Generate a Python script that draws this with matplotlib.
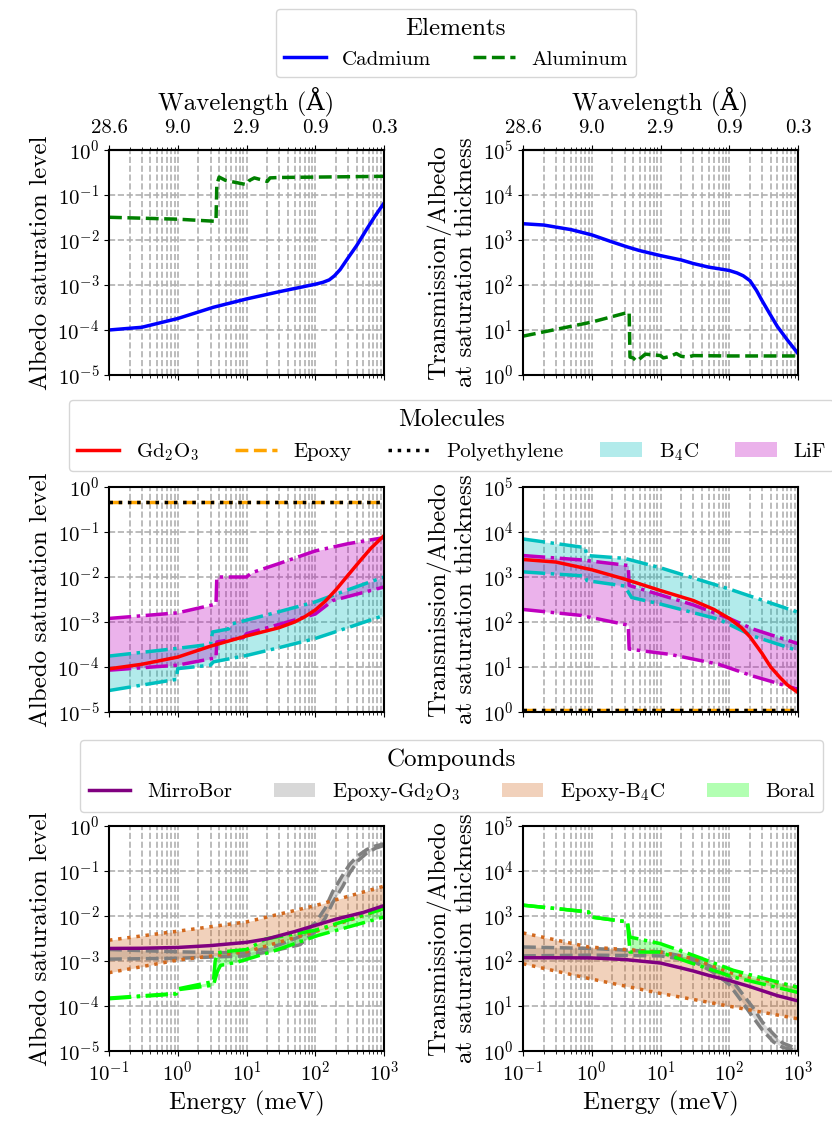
import numpy as np
from matplotlib import pyplot as plt
from matplotlib.ticker import NullLocator, LogLocator

plt.rcParams["font.family"] = ["cmr10", "DejaVu Serif"]
plt.rcParams["mathtext.fontset"] = "cm"
plt.rcParams["axes.formatter.use_mathtext"] = True
plt.rcParams["font.size"] = 15
plt.rcParams["axes.labelsize"] = "large"
plt.rcParams["legend.title_fontsize"] = "large"
plt.rcParams["axes.linewidth"] = 1.5

# ---------------- data (energy in meV) ----------------
# Elements
cd_alb_E = [0.1, 0.3, 1, 3.3, 10, 30, 100, 130, 160, 190, 230, 300, 400, 562, 750, 1000]
cd_alb = [1.0e-4, 1.15e-4, 1.8e-4, 3.2e-4, 4.9e-4, 7.1e-4, 1.04e-3, 1.15e-3, 1.3e-3, 1.6e-3,
          2.2e-3, 4.0e-3, 7.5e-3, 1.75e-2, 3.5e-2, 6.6e-2]
al_alb_E = [0.1, 1, 3.6, 3.7, 4.0, 5, 7, 10, 11, 13, 18, 20, 22, 30, 100, 1000]
al_alb = [0.032, 0.029, 0.026, 0.17, 0.25, 0.21, 0.19, 0.17, 0.21, 0.24, 0.21, 0.2, 0.24, 0.245, 0.25, 0.26]
cd_tr_E = [0.1, 0.2, 0.5, 1, 2, 3.3, 5, 10, 20, 30, 50, 70, 100, 130, 160, 200, 250, 300, 370, 500, 700, 1000]
cd_tr = [2300, 2150, 1700, 1300, 900, 700, 580, 450, 360, 300, 250, 230, 210, 185, 160, 125,
         75, 45, 26, 12, 6, 3.0]
al_tr_E = [0.1, 1, 3.5, 3.6, 4.0, 4.5, 5, 6, 8, 10, 11, 14, 17, 20, 25, 30, 100, 1000]
al_tr = [7.3, 15, 25, 2.5, 2.4, 2.0, 2.3, 2.9, 2.8, 2.7, 2.4, 2.6, 3.0, 2.6, 2.5, 2.7, 2.65, 2.65]

# Molecules
gd_alb_E = [0.1, 0.3, 1, 3, 10, 30, 50, 70, 100, 140, 200, 300, 450, 650, 1000]
gd_alb = [9.1e-5, 1.15e-4, 1.66e-4, 2.9e-4, 4.9e-4, 7.5e-4, 1.0e-3, 1.3e-3, 1.85e-3, 2.9e-3,
          5.2e-3, 1.1e-2, 2.3e-2, 4.4e-2, 8.3e-2]
flat_E = [0.1, 1, 10, 100, 1000]
epoxy_alb = [0.47, 0.47, 0.47, 0.47, 0.47]
poly_alb = [0.46, 0.46, 0.46, 0.46, 0.46]
b4c_hi_alb_E = [0.1, 1, 3.0, 3.2, 5.5, 6, 10, 30, 100, 300, 1000]
b4c_hi_alb = [1.75e-4, 2.6e-4, 3.2e-4, 6e-4, 7e-4, 9e-4, 1.1e-3, 1.7e-3, 2.8e-3, 5.2e-3, 1e-2]
b4c_lo_alb_E = [0.1, 0.95, 1.0, 3.0, 3.3, 10, 30, 100, 300, 1000]
b4c_lo_alb = [3.0e-5, 5.3e-5, 9.2e-5, 1.1e-4, 1.3e-4, 1.8e-4, 2.7e-4, 4.3e-4, 7.5e-4, 1.4e-3]
lif_hi_alb_E = [0.1, 1, 3.6, 3.7, 10, 12, 30, 100, 300, 1000]
lif_hi_alb = [1.2e-3, 1.6e-3, 2.5e-3, 1.0e-2, 1.0e-2, 1.25e-2, 2e-2, 3.8e-2, 5.5e-2, 7.5e-2]
lif_lo_alb_E = [0.1, 1, 3.6, 3.7, 9, 10, 100, 180, 1000]
lif_lo_alb = [8.5e-5, 1.1e-4, 1.6e-4, 3.6e-4, 4.5e-4, 5.5e-4, 1.5e-3, 3e-3, 6e-3]
gd_tr_E = [0.1, 0.3, 1, 3, 10, 30, 60, 100, 150, 200, 300, 400, 550, 700, 1000]
gd_tr = [2450, 2150, 1450, 900, 500, 300, 190, 120, 75, 47, 20, 10, 5.8, 4.0, 2.7]
epoxy_tr = [1.1, 1.1, 1.1, 1.1, 1.1]
poly_tr = [1.1, 1.1, 1.1, 1.1, 1.1]
b4c_hi_tr_E = [0.1, 0.8, 0.85, 3, 10, 100, 1000]
b4c_hi_tr = [7000, 4500, 3000, 2600, 1600, 540, 165]
b4c_lo_tr_E = [0.1, 0.8, 0.85, 3, 3.8, 10, 70, 220, 1000]
b4c_lo_tr = [1300, 1050, 830, 630, 350, 250, 115, 49, 23]
lif_hi_tr_E = [0.1, 0.7, 3.4, 3.5, 10, 30, 100, 220, 1000]
lif_hi_tr = [3000, 2400, 1800, 650, 400, 240, 120, 70, 33]
lif_lo_tr_E = [0.1, 0.7, 3.4, 3.5, 14, 70, 220, 1000]
lif_lo_tr = [190, 140, 85, 25, 19, 11.5, 6.3, 3.2]

# Compounds
mirro_alb_E = [0.1, 0.3, 1, 3, 10, 20, 50, 100, 200, 500, 1000]
mirro_alb = [1.9e-3, 1.92e-3, 2.0e-3, 2.2e-3, 2.6e-3, 3.1e-3, 4.5e-3, 6.2e-3, 8.5e-3, 1.2e-2, 1.7e-2]
egd_alb_E = [0.1, 1, 10, 30, 60, 100, 140, 180, 250, 316, 420, 562, 750, 1000]
egd_hi_alb = [1.8e-3, 1.6e-3, 1.5e-3, 2.3e-3, 3.5e-3, 7e-3, 1.5e-2, 3.5e-2, 8e-2, 0.14, 0.22, 0.3, 0.36, 0.4]
egd_lo_alb = [1.1e-3, 1.15e-3, 1.3e-3, 1.8e-3, 2.3e-3, 4.5e-3, 9e-3, 2e-2, 4.5e-2, 0.09, 0.17, 0.25, 0.32, 0.37]
eb4c_alb_E = [0.1, 1, 10, 100, 1000]
eb4c_hi_alb = [2.9e-3, 4.6e-3, 7.4e-3, 1.7e-2, 4.6e-2]
eb4c_lo_alb = [5.5e-4, 1.05e-3, 1.6e-3, 4.5e-3, 1.45e-2]
boral_hi_alb_E = [0.1, 0.95, 1.0, 3.3, 3.5, 3.8, 4.5, 10, 15, 19, 100, 1000]
boral_hi_alb = [1.5e-4, 1.9e-4, 2.4e-4, 3.5e-4, 1.0e-3, 1.5e-3, 1.6e-3, 1.8e-3, 2.5e-3, 3.1e-3, 4.8e-3, 1.46e-2]
boral_lo_alb_E = [0.1, 0.95, 1.0, 3.3, 3.8, 4.2, 7.5, 23, 110, 1000]
boral_lo_alb = [1.45e-4, 1.85e-4, 2.3e-4, 2.9e-4, 6e-4, 8e-4, 9.5e-4, 1.6e-3, 3.7e-3, 9.5e-3]
mirro_tr_E = [0.1, 0.3, 1, 3, 5, 10, 20, 30, 50, 100, 200, 300, 500, 1000]
mirro_tr = [118, 118, 117, 108, 100, 90, 70, 60, 48, 37, 27, 22, 17, 13]
egd_tr_E = [0.1, 1, 10, 30, 60, 100, 150, 224, 300, 437, 600, 1000]
egd_hi_tr = [205, 190, 160, 115, 70, 45, 20, 9, 4.5, 2.4, 1.5, 1.1]
egd_lo_tr = [130, 135, 130, 100, 55, 30, 13, 5.5, 3.0, 1.6, 1.2, 1.0]
eb4c_tr_E = [0.1, 0.9, 10, 30, 115, 1000]
eb4c_hi_tr = [420, 205, 158, 113, 52, 26]
eb4c_lo_tr = [87, 41, 19, 14, 9.5, 5.2]
boral_tr_E = [0.1, 0.9, 0.95, 3.3, 3.6, 9.8, 30, 115, 1000]
boral_hi_tr = [1740, 1230, 955, 740, 340, 245, 134, 62, 26]
boral_lo_tr = [1740, 1230, 955, 740, 158, 158, 87, 44, 20]

tick_E = [0.1, 1, 10, 100, 1000]

ALB_LABEL = "Albedo saturation level"
TR_LABEL = "Transmission/Albedo\nat saturation thickness"


def style_axes(ax, ylim, bottom_labels=False):
    ax.set_xscale("log")
    ax.set_yscale("log")
    ax.set_xlim(0.1, 1000)
    ax.set_ylim(*ylim)
    ax.yaxis.set_major_locator(LogLocator(base=10, numticks=12))
    ax.yaxis.set_minor_locator(NullLocator())
    ax.grid(True, which="both", axis="x", ls="--", color="#b0b0b0", lw=1.2)
    ax.grid(True, which="major", axis="y", ls="--", color="#b0b0b0", lw=1.2)
    ax.set_axisbelow(True)
    if bottom_labels:
        ax.set_xlabel("Energy (meV)")
    else:
        ax.tick_params(axis="x", which="both", labelbottom=False)


def add_top_axis(ax):
    sec = ax.secondary_xaxis("top")
    labels = ["{:.1f}".format(9.045 / np.sqrt(e)) for e in tick_E]
    sec.set_xticks(tick_E, labels=labels)
    sec.tick_params(axis="x", which="major", pad=6)
    sec.set_xlabel(r"Wavelength (Å)", labelpad=6)


def band(ax, E_hi, hi, E_lo, lo, color, ls, label, lw=2.5):
    grid = np.unique(np.concatenate([E_hi, E_lo]))
    h = 10 ** np.interp(np.log10(grid), np.log10(E_hi), np.log10(hi))
    l = 10 ** np.interp(np.log10(grid), np.log10(E_lo), np.log10(lo))
    ax.fill_between(grid, l, h, color=color, alpha=0.3, lw=0, label=label)
    ax.plot(E_hi, hi, color=color, ls=ls, lw=lw)
    ax.plot(E_lo, lo, color=color, ls=ls, lw=lw)


fig = plt.figure(figsize=(8.32, 11.23), dpi=100)
L, W = 109 / 832, 275 / 832
R = 523 / 832
H = 225 / 1123
rows = [1 - 375 / 1123, 1 - 712 / 1123, 1 - 1051 / 1123]
axs = [[fig.add_axes([L, b, W, H]), fig.add_axes([R, b, W, H])] for b in rows]

# ---- Elements ----
ax = axs[0][0]
ax.plot(cd_alb_E, cd_alb, color="blue", lw=2.5, label="Cadmium")
ax.plot(al_alb_E, al_alb, color="green", ls="--", lw=2.5, label="Aluminum")
style_axes(ax, (1e-5, 1))
ax.set_ylabel(ALB_LABEL)
add_top_axis(ax)
ax = axs[0][1]
ax.plot(cd_tr_E, cd_tr, color="blue", lw=2.5)
ax.plot(al_tr_E, al_tr, color="green", ls="--", lw=2.5)
style_axes(ax, (1, 1e5))
ax.set_ylabel(TR_LABEL)
add_top_axis(ax)
h, lab = axs[0][0].get_legend_handles_labels()
fig.legend(h, lab, loc="center", bbox_to_anchor=(0.548, 0.9617), ncol=2, title="Elements")

# ---- Molecules ----
ax = axs[1][0]
band(ax, b4c_hi_alb_E, b4c_hi_alb, b4c_lo_alb_E, b4c_lo_alb, "c", "-.", r"B$_4$C")
band(ax, lif_hi_alb_E, lif_hi_alb, lif_lo_alb_E, lif_lo_alb, "m", "-.", "LiF")
ax.plot(gd_alb_E, gd_alb, color="red", lw=2.5, label=r"Gd$_2$O$_3$")
ax.plot(flat_E, epoxy_alb, color="orange", ls="--", lw=2.5, label="Epoxy")
ax.plot(flat_E, poly_alb, color="black", ls=":", lw=2.5, label="Polyethylene")
style_axes(ax, (1e-5, 1))
ax.set_ylabel(ALB_LABEL)
ax = axs[1][1]
band(ax, b4c_hi_tr_E, b4c_hi_tr, b4c_lo_tr_E, b4c_lo_tr, "c", "-.", None)
band(ax, lif_hi_tr_E, lif_hi_tr, lif_lo_tr_E, lif_lo_tr, "m", "-.", None)
ax.plot(gd_tr_E, gd_tr, color="red", lw=2.5)
ax.plot(flat_E, epoxy_tr, color="orange", ls="--", lw=2.5)
ax.plot(flat_E, poly_tr, color="black", ls=":", lw=2.5)
style_axes(ax, (1, 1e5))
ax.set_ylabel(TR_LABEL)
h, lab = axs[1][0].get_legend_handles_labels()
order = [2, 3, 4, 0, 1]
fig.legend([h[i] for i in order], [lab[i] for i in order], loc="center",
           bbox_to_anchor=(0.543, 0.6122), ncol=5, title="Molecules", columnspacing=1.75)

# ---- Compounds ----
ax = axs[2][0]
band(ax, egd_alb_E, egd_hi_alb, egd_alb_E, egd_lo_alb, "gray", "--", r"Epoxy-Gd$_2$O$_3$")
band(ax, eb4c_alb_E, eb4c_hi_alb, eb4c_alb_E, eb4c_lo_alb, "chocolate", ":", r"Epoxy-B$_4$C")
band(ax, boral_hi_alb_E, boral_hi_alb, boral_lo_alb_E, boral_lo_alb, "lime", "-.", "Boral")
ax.plot(mirro_alb_E, mirro_alb, color="purple", lw=2.5, label="MirroBor")
style_axes(ax, (1e-5, 1), bottom_labels=True)
ax.set_ylabel(ALB_LABEL)
ax = axs[2][1]
band(ax, egd_tr_E, egd_hi_tr, egd_tr_E, egd_lo_tr, "gray", "--", None)
band(ax, eb4c_tr_E, eb4c_hi_tr, eb4c_tr_E, eb4c_lo_tr, "chocolate", ":", None)
band(ax, boral_tr_E, boral_hi_tr, boral_tr_E, boral_lo_tr, "lime", "-.", None)
ax.plot(mirro_tr_E, mirro_tr, color="purple", lw=2.5)
style_axes(ax, (1, 1e5), bottom_labels=True)
ax.set_ylabel(TR_LABEL)
h, lab = axs[2][0].get_legend_handles_labels()
order = [3, 0, 1, 2]
fig.legend([h[i] for i in order], [lab[i] for i in order], loc="center",
           bbox_to_anchor=(0.543, 0.309), ncol=4, title="Compounds")

fig.savefig("out.png", dpi=100)
